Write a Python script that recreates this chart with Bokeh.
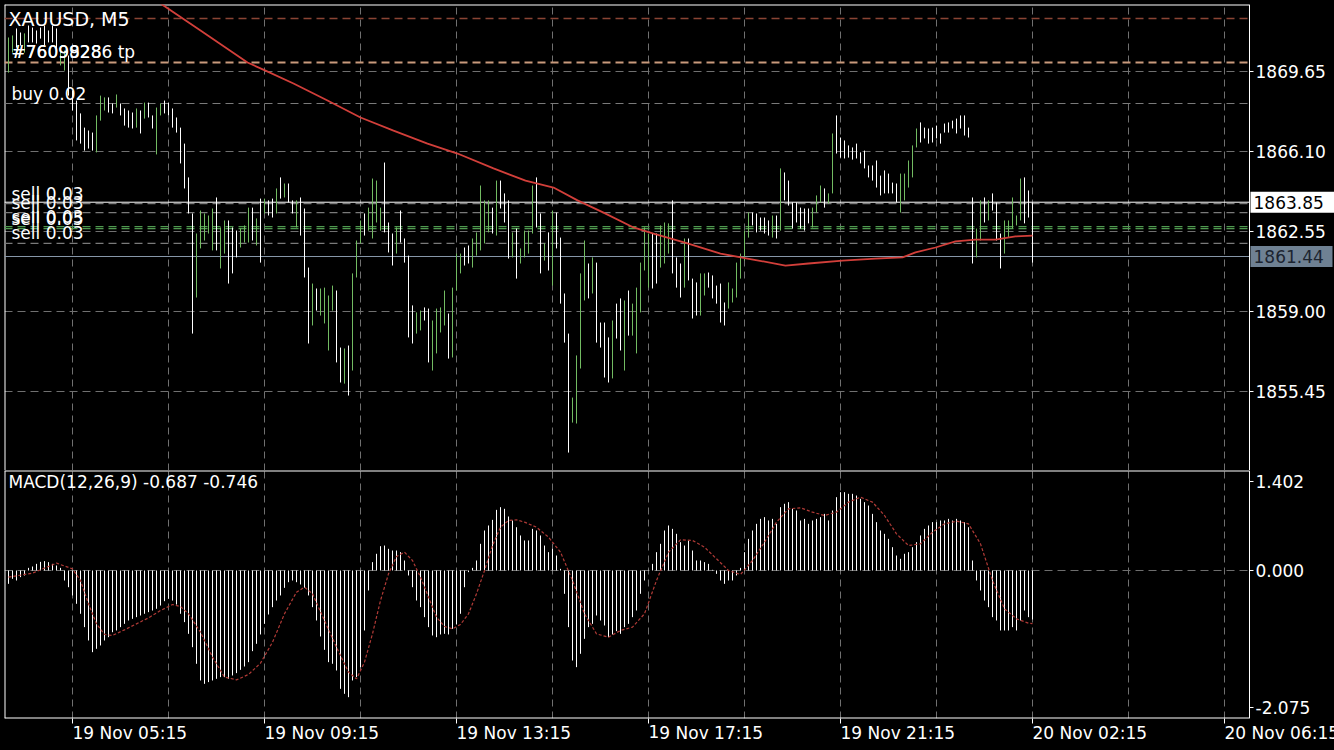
from bokeh.plotting import figure
from bokeh.models import (Range1d, FixedTicker, Label, Grid,
                          PrintfTickFormatter, ColumnDataSource)
from bokeh.layouts import column
from bokeh.embed import file_html
from bokeh.resources import INLINE
from bokeh.core.properties import value

# ---------------- data ----------------
symbol = "XAUUSD, M5"
first_bar = -16   # bar index of the first visible bar (index 0 = 19 Nov 05:15)

bar_high = [
    1871.16, 1871.25, 1871.56, 1871.38, 1871.34, 1871.69, 1871.60, 1871.47, 1871.60, 1871.69,
    1871.47, 1871.69, 1871.56, 1870.67, 1870.58, 1870.36, 1868.81, 1868.36, 1867.79, 1867.16,
    1867.03, 1866.94, 1867.70, 1868.58, 1868.50, 1868.50, 1868.23, 1868.63, 1868.23, 1868.01,
    1867.92, 1867.83, 1868.01, 1867.92, 1868.27, 1868.27, 1867.70, 1868.05, 1868.23, 1868.36,
    1868.27, 1868.01, 1867.61, 1867.16, 1866.45, 1864.95, 1863.35, 1862.46, 1863.48, 1863.35,
    1863.26, 1863.57, 1864.06, 1862.73, 1863.04, 1863.04, 1862.73, 1862.59, 1862.68, 1862.82,
    1863.61, 1863.61, 1863.13, 1864.01, 1864.01, 1863.93, 1864.01, 1864.46, 1864.95, 1864.68,
    1864.68, 1863.93, 1863.93, 1864.06, 1863.57, 1860.95, 1860.24, 1860.02, 1860.02, 1860.06,
    1859.71, 1860.15, 1859.93, 1857.40, 1857.36, 1857.49, 1860.69, 1862.15, 1863.04, 1863.35,
    1863.61, 1864.90, 1864.81, 1863.61, 1865.61, 1862.95, 1862.46, 1862.73, 1863.48, 1862.24,
    1861.48, 1859.27, 1858.96, 1859.04, 1859.18, 1859.13, 1858.60, 1859.13, 1859.18, 1859.93,
    1858.91, 1860.06, 1861.57, 1861.57, 1861.84, 1861.93, 1862.24, 1862.51, 1864.59, 1863.93,
    1863.93, 1863.61, 1864.81, 1864.81, 1864.24, 1863.93, 1862.51, 1862.68, 1861.80, 1862.59,
    1862.59, 1864.59, 1864.95, 1863.35, 1862.02, 1862.51, 1863.48, 1863.39, 1862.28, 1859.80,
    1858.02, 1855.18, 1857.05, 1860.69, 1862.15, 1861.13, 1861.40, 1861.17, 1858.51, 1858.51,
    1857.85, 1858.60, 1859.35, 1859.58, 1859.49, 1859.93, 1859.35, 1860.06, 1861.17, 1862.73,
    1862.46, 1862.46, 1862.46, 1862.82, 1862.95, 1862.91, 1863.93, 1861.40, 1861.13, 1862.24,
    1862.24, 1860.46, 1860.29, 1860.69, 1860.69, 1860.73, 1860.60, 1860.15, 1860.24, 1859.40,
    1860.29, 1860.02, 1861.17, 1861.57, 1862.59, 1863.39, 1863.39, 1863.35, 1863.17, 1863.17,
    1863.04, 1863.26, 1863.26, 1865.35, 1865.17, 1864.81, 1863.84, 1863.84, 1863.61, 1863.57,
    1863.57, 1863.61, 1864.15, 1864.59, 1864.46, 1864.24, 1866.90, 1867.70, 1866.72, 1866.59,
    1866.37, 1866.28, 1866.45, 1866.06, 1866.14, 1865.48, 1865.48, 1865.70, 1865.03, 1865.26,
    1865.12, 1864.72, 1864.68, 1865.12, 1865.12, 1865.70, 1866.37, 1867.12, 1867.39, 1867.16,
    1867.12, 1867.16, 1867.25, 1866.90, 1867.34, 1867.39, 1867.47, 1867.56, 1867.70, 1867.70,
    1867.16, 1864.06, 1862.68, 1863.93, 1864.06, 1863.93, 1864.24, 1863.84, 1862.46, 1863.04,
    1863.04, 1864.06, 1863.26, 1864.90, 1864.95, 1864.37, 1863.84,
]

bar_low = [
    1869.60, 1870.49, 1870.71, 1870.80, 1870.49, 1870.94, 1870.94, 1870.89, 1871.11, 1870.80,
    1870.94, 1870.94, 1870.49, 1869.92, 1869.69, 1868.58, 1867.92, 1866.59, 1866.45, 1866.14,
    1866.23, 1866.14, 1866.06, 1867.47, 1867.92, 1867.83, 1867.79, 1868.05, 1867.70, 1867.25,
    1867.16, 1867.12, 1867.16, 1866.90, 1867.56, 1867.61, 1867.12, 1865.97, 1867.70, 1867.79,
    1867.70, 1867.16, 1866.94, 1865.57, 1864.46, 1863.35, 1858.02, 1859.62, 1861.80, 1862.15,
    1862.46, 1861.71, 1861.71, 1860.91, 1861.57, 1860.24, 1860.69, 1861.40, 1861.84, 1862.06,
    1862.06, 1862.15, 1861.93, 1861.17, 1863.35, 1863.26, 1863.17, 1863.35, 1864.01, 1864.06,
    1863.84, 1863.35, 1862.73, 1862.37, 1860.51, 1857.58, 1858.38, 1859.04, 1858.82, 1858.47,
    1857.27, 1859.04, 1856.74, 1855.85, 1855.80, 1855.27, 1856.38, 1860.51, 1862.02, 1862.37,
    1862.59, 1862.24, 1862.95, 1862.59, 1862.51, 1861.62, 1861.04, 1861.57, 1862.06, 1861.17,
    1857.85, 1857.58, 1858.02, 1858.16, 1858.60, 1856.74, 1856.38, 1857.14, 1858.07, 1858.38,
    1856.91, 1856.96, 1859.93, 1860.69, 1861.04, 1861.13, 1860.95, 1861.48, 1861.71, 1862.02,
    1862.51, 1862.46, 1862.37, 1863.57, 1862.95, 1861.35, 1861.40, 1860.46, 1861.13, 1861.40,
    1861.57, 1862.46, 1862.73, 1860.69, 1861.26, 1860.82, 1860.15, 1861.80, 1859.35, 1857.62,
    1852.74, 1854.07, 1854.03, 1856.47, 1859.49, 1859.58, 1859.80, 1857.62, 1857.40, 1856.07,
    1855.85, 1856.03, 1857.80, 1857.27, 1856.38, 1857.93, 1857.93, 1857.14, 1858.96, 1860.82,
    1860.06, 1860.02, 1860.24, 1860.95, 1861.13, 1861.57, 1860.69, 1860.06, 1859.62, 1860.06,
    1860.38, 1858.69, 1858.82, 1858.82, 1859.71, 1860.06, 1859.58, 1859.35, 1858.51, 1858.38,
    1859.13, 1859.40, 1859.62, 1860.46, 1861.26, 1862.28, 1862.82, 1862.51, 1862.59, 1862.46,
    1862.37, 1862.28, 1862.24, 1862.59, 1863.93, 1863.70, 1862.68, 1862.95, 1862.68, 1862.59,
    1862.91, 1862.73, 1863.39, 1863.84, 1863.61, 1863.79, 1864.24, 1866.01, 1865.83, 1865.79,
    1865.83, 1865.74, 1865.79, 1865.57, 1865.35, 1864.95, 1864.81, 1864.50, 1864.15, 1864.24,
    1864.24, 1864.24, 1863.84, 1863.39, 1863.93, 1864.50, 1864.95, 1866.28, 1866.50, 1866.68,
    1866.45, 1866.50, 1866.68, 1866.45, 1866.94, 1866.94, 1867.12, 1866.90, 1867.12, 1866.81,
    1866.72, 1861.13, 1861.40, 1862.15, 1862.95, 1863.04, 1863.48, 1862.15, 1860.91, 1861.57,
    1862.28, 1862.68, 1862.82, 1863.04, 1862.91, 1863.17, 1861.17,
]

# u = bullish bar, d = bearish bar
bar_dir = """
u u d d u d d d d d   d d d u u d d d d d   d d u u u d d u d d   d d u d u d d u u d
d d d d d d d u u u   u u d u u d d d u u   u d u d u d d u d u   d d u d d d u d u u
u u d d u d u u u d   u u u u d d d u d d   d d u u d d u u u u   d u u u d d u u u u
u d u d d d u d u u   u u d d u d u d d d   d u u u u d u d d d   d u d d u d u u u u
u d d u u u d d d u   d d d u u d d d d d   u u u u u u d d d d   d u d u d d d d d d
d u u u d u u d d d   d d d d d d d d d d   d d d u u u u u d d   d d d d d d d d d d
d d u u d u d d d u   u u u u d d d
""".split()

ma_index = [12, 22, 32, 43.75, 48.25, 55.25, 63.75, 72, 80.25, 88.75, 96.25, 105.25,
            113.25, 120.25, 126.25, 132.75, 140.25, 145.25, 153.75, 162, 168.75, 178.25,
            184, 192.5, 200.75, 207.5, 210.75, 215.75, 220.75, 225.75, 230.75, 235.75, 240]
ma_price = [1873.91, 1872.67, 1871.47, 1870.05, 1869.69, 1869.12, 1868.36, 1867.61,
            1867.03, 1866.45, 1866.01, 1865.35, 1864.81, 1864.50, 1863.93, 1863.39,
            1862.73, 1862.46, 1862.02, 1861.57, 1861.35, 1861.04, 1861.13, 1861.26,
            1861.35, 1861.40, 1861.62, 1861.84, 1862.11, 1862.19, 1862.19, 1862.33, 1862.37]

macd_hist = [
    -0.187, -0.117, -0.140, -0.093, -0.070, 0.037, 0.056, 0.093, 0.121, 0.131,
    0.117, 0.093, 0.070, 0.037, -0.140, -0.234, -0.350, -0.467, -0.607, -0.794,
    -0.981, -1.145, -1.098, -1.051, -0.981, -0.935, -0.865, -0.841, -0.794, -0.748,
    -0.701, -0.678, -0.654, -0.631, -0.607, -0.584, -0.561, -0.537, -0.491, -0.430,
    -0.397, -0.421, -0.477, -0.607, -0.724, -0.888, -1.075, -1.308, -1.542, -1.589,
    -1.565, -1.542, -1.519, -1.495, -1.495, -1.519, -1.472, -1.439, -1.393, -1.346,
    -1.285, -1.131, -1.028, -0.897, -0.748, -0.617, -0.514, -0.421, -0.350, -0.243,
    -0.164, -0.140, -0.164, -0.196, -0.243, -0.350, -0.514, -0.701, -0.925, -1.112,
    -1.285, -1.308, -1.402, -1.659, -1.729, -1.776, -1.542, -1.495, -1.355, -0.841,
    -0.280, 0.117, 0.234, 0.341, 0.350, 0.304, 0.280, 0.280, 0.257, 0.140,
    -0.070, -0.234, -0.421, -0.514, -0.654, -0.794, -0.911, -0.935, -0.897, -0.888,
    -0.897, -0.818, -0.757, -0.607, -0.234, -0.023, 0.037, 0.140, 0.374, 0.561,
    0.631, 0.710, 0.850, 0.888, 0.865, 0.757, 0.701, 0.607, 0.491, 0.421,
    0.421, 0.584, 0.561, 0.491, 0.350, 0.257, 0.304, 0.210, 0.023, -0.327,
    -0.794, -1.262, -1.355, -1.168, -0.958, -0.794, -0.748, -0.631, -0.701, -0.771,
    -0.935, -0.897, -0.850, -0.888, -0.794, -0.748, -0.654, -0.561, -0.327, -0.140,
    0.009, 0.093, 0.257, 0.374, 0.561, 0.631, 0.584, 0.514, 0.397, 0.350,
    0.421, 0.280, 0.140, 0.140, 0.117, 0.093, 0.009, -0.047, -0.140, -0.187,
    -0.140, -0.140, -0.070, 0.037, 0.257, 0.444, 0.561, 0.654, 0.724, 0.748,
    0.701, 0.724, 0.654, 0.888, 0.935, 0.958, 0.865, 0.841, 0.701, 0.724,
    0.654, 0.701, 0.724, 0.748, 0.794, 0.701, 0.841, 1.028, 1.098, 1.098,
    1.075, 1.075, 1.051, 1.005, 0.958, 0.911, 0.794, 0.678, 0.561, 0.514,
    0.444, 0.327, 0.210, 0.164, 0.234, 0.257, 0.327, 0.397, 0.491, 0.584,
    0.631, 0.678, 0.678, 0.701, 0.701, 0.724, 0.701, 0.724, 0.701, 0.678,
    0.607, 0.140, -0.140, -0.280, -0.421, -0.514, -0.654, -0.701, -0.841, -0.841,
    -0.841, -0.794, -0.841, -0.701, -0.561, -0.654, -0.687,
]

signal_index = [-16, -10, -4, 0, 2, 4, 6, 8, 10, 13, 16, 19, 22, 25, 27, 29, 32, 35, 38, 41,
                44, 47, 50, 53, 56, 58, 60, 63, 66, 69, 71, 73, 75, 77, 79, 81, 83, 85, 87, 89,
                91, 93, 95, 97, 99, 101, 103, 105, 107, 109, 111, 113, 116, 119, 122, 125, 128,
                131, 134, 137, 140, 143, 146, 149, 152, 155, 158, 161, 164, 167, 170, 173, 176,
                179, 182, 185, 188, 191, 194, 197, 200, 203, 206, 209, 212, 215, 218, 221, 224,
                227, 230, 233, 236, 239, 240]
signal_value = [-0.093, -0.037, 0.103, 0.023, -0.140, -0.467, -0.748, -0.897, -0.911, -0.832,
                -0.748, -0.664, -0.561, -0.477, -0.505, -0.607, -0.865, -1.215, -1.495, -1.533,
                -1.458, -1.299, -1.005, -0.607, -0.304, -0.234, -0.327, -0.701, -1.075, -1.425,
                -1.519, -1.285, -0.888, -0.421, -0.047, 0.196, 0.257, 0.140, -0.093, -0.374,
                -0.654, -0.785, -0.818, -0.757, -0.607, -0.327, 0.000, 0.350, 0.607, 0.701,
                0.710, 0.678, 0.607, 0.467, 0.257, -0.140, -0.607, -0.888, -0.935, -0.841,
                -0.794, -0.607, -0.140, 0.257, 0.430, 0.421, 0.327, 0.164, 0.000, -0.056,
                0.140, 0.397, 0.678, 0.865, 0.879, 0.818, 0.771, 0.818, 0.958, 1.028,
                0.958, 0.771, 0.514, 0.350, 0.374, 0.537, 0.654, 0.692, 0.654, 0.374,
                -0.140, -0.537, -0.678, -0.738, -0.746]

price_ticks = [1869.65, 1866.10, 1862.55, 1859.00, 1855.45]
macd_max, macd_min = 1.402, -2.075

time_tick_index = [0, 48, 96, 144, 192, 240, 288]
time_tick_labels = ["19 Nov 05:15", "19 Nov 09:15", "19 Nov 13:15", "19 Nov 17:15",
                    "19 Nov 21:15", "20 Nov 02:15", "20 Nov 06:15"]
grid_index = [0, 24, 48, 72, 96, 120, 144, 168, 192, 216, 240, 264, 288]

sl_price = 1872.00
tp_price = 1870.05
tp_labels = ["#76098286 tp", "#7609928"]
buy_price = 1868.23
buy_label = "buy 0.02"
sell_prices = [1863.79, 1863.39, 1862.77, 1862.68, 1862.02]
sell_labels = ["sell 0.03", "sell 0.03", "sell 0.03", "sell 0.05", "sell 0.03"]
bid_price = 1863.85
last_price = 1861.44

# ---------------- style / geometry ----------------
FONT = "DejaVu Sans"
WHITE = "#ffffff"
GREEN = "#72bb62"
GRID = "#707070"
FRAME_W = 1245          # chart area width (left edge to price scale)
WIDE_W = 1400           # frames also cover the price-scale strip (cut by the window)
MAIN_H = 466
MACD_H = 248
PX = 0.044375           # price per pixel
P_TOP = price_ticks[0] + 67 * PX
P_BOT = P_TOP - MAIN_H * PX
X0 = first_bar - 1
AXIS_X = X0 + FRAME_W / 4.0
XR = X0 + WIDE_W / 4.0
XWIN = X0 + 1330 / 4.0  # right edge of the window


def style_axis(a, tick_out):
    a.major_tick_line_color = WHITE
    a.major_tick_out = tick_out
    a.major_tick_in = 0
    a.minor_tick_line_color = None
    a.major_label_text_color = WHITE
    a.major_label_text_font = FONT
    a.major_label_text_font_size = "17px"


# ---------------- main price panel ----------------
p = figure(frame_width=WIDE_W, frame_height=MAIN_H, x_range=Range1d(X0, XR),
           y_range=Range1d(P_BOT, P_TOP), output_backend="svg", toolbar_location=None,
           x_axis_location=None, y_axis_location="right",
           min_border_left=4, min_border_top=4, min_border_bottom=0, min_border_right=0,
           background_fill_color="black", border_fill_color="black",
           outline_line_color=None)
p.xgrid.visible = False
p.ygrid.visible = False

ax = p.yaxis[0]
ax.fixed_location = AXIS_X
ax.ticker = FixedTicker(ticks=price_ticks)
ax.formatter = PrintfTickFormatter(format="%.2f")
ax.axis_line_color = WHITE
style_axis(ax, 4)
ax.major_label_standoff = 2

# horizontal grid (stops at the price scale) and vertical grid
npt = len(price_ticks)
p.segment(x0=[X0] * npt, x1=[AXIS_X] * npt, y0=price_ticks, y1=price_ticks,
          line_color=GRID, line_dash="8 5", line_width=1)
p.add_layout(Grid(dimension=0, ticker=FixedTicker(ticks=grid_index),
                  grid_line_color=GRID, grid_line_dash="7 5"))

# frame border (top, left)
p.segment(x0=[X0, X0], y0=[P_TOP, P_BOT], x1=[AXIS_X, X0], y1=[P_TOP, P_TOP],
          line_color=WHITE, line_width=2)

# trade levels (dashed) and price lines (solid)
dash_prices = [sl_price, tp_price, buy_price] + sell_prices
dash_colors = ["#8a4434", "#c99a7c", "#7a7a7a",
               "#7a7a7a", "#7a7a7a", "#4f9a4f", "#4f9a4f", "#7a7a7a"]
dash_widths = [1.5, 2, 1, 1.3, 1.3, 1.3, 1.3, 1.3]
nd = len(dash_prices)
p.segment(x0=[X0] * nd, x1=[AXIS_X] * nd, y0=dash_prices, y1=dash_prices,
          line_color=dash_colors, line_width=dash_widths, line_dash="8 5")
p.segment(x0=[X0, X0], x1=[AXIS_X, AXIS_X], y0=[bid_price, last_price],
          y1=[bid_price, last_price], line_color=[WHITE, "#8696a8"], line_width=1)

# bars
n = min(len(bar_high), len(bar_low), len(bar_dir))
src = ColumnDataSource(dict(
    x=[first_bar + k for k in range(n)],
    high=bar_high[:n], low=bar_low[:n],
    color=[GREEN if d == "u" else WHITE for d in bar_dir[:n]],
))
p.segment(x0="x", y0="low", x1="x", y1="high", line_color="color", line_width=1, source=src)

p.line(ma_index, ma_price, line_color="#d23f3a", line_width=1.8)

# price boxes on the price scale
box_prices = [bid_price, last_price]
half = 10.5 * PX
p.quad(left=[AXIS_X + 0.25] * 2, right=[XWIN, XWIN - 0.5],
       bottom=[b - half for b in box_prices], top=[b + half for b in box_prices],
       fill_color=[WHITE, "#6f8193"], line_color=None)
p.text(x=[AXIS_X + 1.0] * 2, y=box_prices, text=[f"{b:.2f}" for b in box_prices],
       text_font=value(FONT), text_font_size=value("17px"),
       text_color=["black", "#1c2430"], text_baseline="middle", text_align="left")


# texts on the chart
def lab(fig, x, y, text, size="17px", baseline="bottom"):
    fig.add_layout(Label(x=x, y=y, text=text, text_font=FONT, text_font_size=size,
                         text_color=WHITE, text_baseline=baseline, text_align="left"))


lab(p, X0 + 1, P_TOP - 14 * PX, symbol, size="19px", baseline="middle")
for t in tp_labels:
    lab(p, X0 + 1.75, tp_price, t)
lab(p, X0 + 1.75, buy_price, buy_label)
for sp, sl in zip(sell_prices, sell_labels):
    lab(p, X0 + 1.75, sp, sl)

# ---------------- MACD panel ----------------
MPX = (macd_max - macd_min) / MACD_H
q = figure(frame_width=WIDE_W, frame_height=MACD_H, x_range=Range1d(X0, XR),
           y_range=Range1d(macd_min, macd_max), output_backend="svg", toolbar_location=None,
           x_axis_location="below", y_axis_location="right",
           min_border_left=4, min_border_top=0, min_border_bottom=28, min_border_right=0,
           background_fill_color="black", border_fill_color="black",
           outline_line_color=None)

top_pos = macd_max - 11 * MPX
bot_pos = macd_min + 11 * MPX
qy = q.yaxis[0]
qy.fixed_location = AXIS_X
qy.ticker = FixedTicker(ticks=[top_pos, 0.0, bot_pos])
qy.major_label_overrides = {top_pos: f"{macd_max:.3f}", 0.0: "0.000",
                            bot_pos: f"{macd_min:.3f}"}
qy.axis_line_color = WHITE
style_axis(qy, 4)
qy.major_label_standoff = 2

qx = q.xaxis[0]
qx.ticker = FixedTicker(ticks=time_tick_index)
qx.major_label_overrides = dict(zip(time_tick_index, time_tick_labels))
qx.axis_line_color = None
style_axis(qx, 5)
# a negligible angle makes the labels start at their tick (left anchored)
qx.major_label_orientation = -0.0001
qx.major_label_standoff = 9

q.xgrid.visible = False
q.ygrid.visible = False
q.segment(x0=[X0], x1=[AXIS_X], y0=[0.0], y1=[0.0], line_color=GRID, line_dash="8 5")
q.add_layout(Grid(dimension=0, ticker=FixedTicker(ticks=grid_index),
                  grid_line_color=GRID, grid_line_dash="7 5"))

# frame border (top, left, bottom)
q.segment(x0=[X0, X0, X0], y0=[macd_max, macd_min, macd_min],
          x1=[AXIS_X, X0, AXIS_X], y1=[macd_max, macd_max, macd_min],
          line_color=WHITE, line_width=2)

m = len(macd_hist)
hx = [first_bar + k for k in range(m)]
q.segment(x0=hx, y0=[0.0] * m, x1=hx, y1=macd_hist, line_color=WHITE, line_width=1)
k2 = min(len(signal_index), len(signal_value))
q.line(signal_index[:k2], signal_value[:k2], line_color="#b03a36", line_width=1.2,
       line_dash="3 2")

lab(q, X0 + 1, top_pos,
    f"MACD(12,26,9) {macd_hist[-1]:.3f} {signal_value[-1]:.3f}", baseline="middle")

layout = column(p, q, spacing=0)
html = file_html(layout, INLINE, title=symbol)
html = html.replace("<head>", "<head><style>html,body{background:#000;overflow:hidden;}</style>", 1)
open("out.html", "w").write(html)
